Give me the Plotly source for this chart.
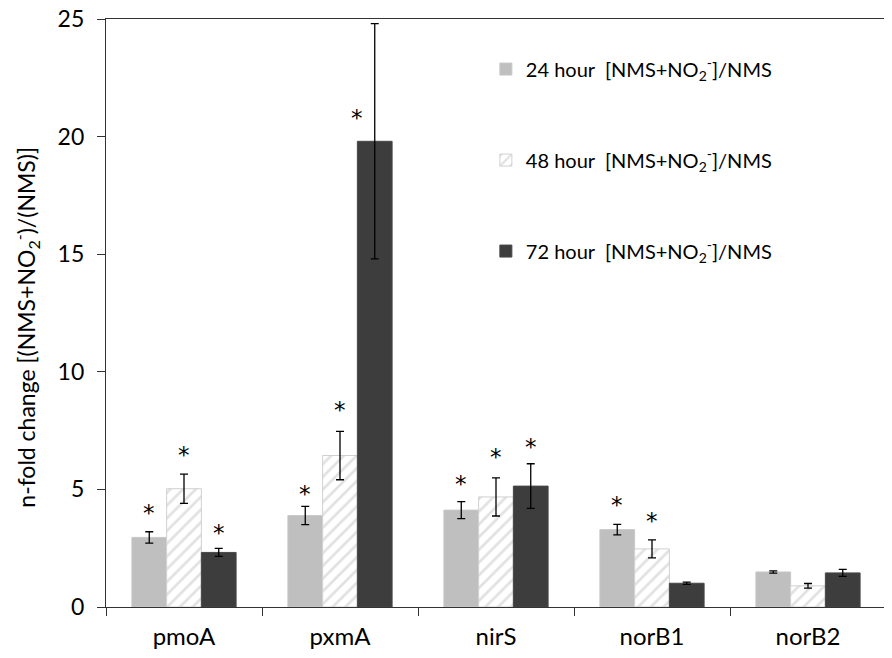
import plotly.graph_objects as go

# genes on the x axis
genes = ["pmoA", "pxmA", "nirS", "norB1", "norB2"]

# fold change per time point
fold_24h = [2.96, 3.89, 4.12, 3.29, 1.49]
fold_48h = [5.03, 6.44, 4.68, 2.47, 0.90]
fold_72h = [2.32, 19.8, 5.14, 1.01, 1.45]

err_24h = [0.24, 0.39, 0.36, 0.22, 0.05]
err_48h = [0.62, 1.03, 0.81, 0.38, 0.10]
err_72h = [0.17, 5.0, 0.95, 0.05, 0.15]

# significance markers: gene index, series index (0/1/2), height, sideways shift in bar widths
star_gene = [0, 0, 0, 1, 1, 1, 2, 2, 2, 3, 3]
star_series = [0, 1, 2, 0, 1, 2, 0, 1, 2, 0, 1]
star_y = [4.24, 6.71, 3.40, 5.08, 8.63, 21.05, 5.50, 6.62, 7.07, 4.58, 3.92]
star_dx = [0, 0, 0, 0, 0, -0.5, 0, 0, 0, 0, 0]

legend_names = [
    "24 hour  [NMS+NO<sub>2</sub><sup>-</sup>]/NMS",
    "48 hour  [NMS+NO<sub>2</sub><sup>-</sup>]/NMS",
    "72 hour  [NMS+NO<sub>2</sub><sup>-</sup>]/NMS",
]
y_title = "n-fold change [(NMS+NO<sub>2</sub><sup>-</sup>)/(NMS)]"

FONT = "Lato"
bargap = 0.332
bar_w = (1 - bargap) / 3

err_style = dict(type="data", color="black", thickness=1.3, width=4)

fig = go.Figure()
fig.add_trace(go.Bar(
    x=genes, y=fold_24h, name=legend_names[0], legendgroup="a",
    marker=dict(color="#bfbfbf", line=dict(color="#c8c8c8", width=1)),
    error_y=dict(array=err_24h, **err_style)))
fig.add_trace(go.Bar(
    x=genes, y=fold_48h, name=legend_names[1], legendgroup="b",
    marker=dict(color="white", line=dict(color="#d0d0d0", width=1),
                pattern=dict(shape="/", fgcolor="#c4c4c4", bgcolor="white", size=9, solidity=0.3)),
    error_y=dict(array=err_48h, **err_style)))
fig.add_trace(go.Bar(
    x=genes, y=fold_72h, name=legend_names[2], legendgroup="c",
    marker=dict(color="#3d3d3d", line=dict(color="#474747", width=1)),
    error_y=dict(array=err_72h, **err_style)))

for g, s, y, dx in zip(star_gene, star_series, star_y, star_dx):
    fig.add_annotation(x=g + (s - 1 + dx) * bar_w, y=y, text="*", showarrow=False,
                       font=dict(family="DejaVu Sans", size=23, color="black"), yshift=-6)

# y title as a rotated annotation so it can sit near the left edge
fig.add_annotation(x=0, y=0.475, xref="paper", yref="paper", xshift=-80,
                   xanchor="center", yanchor="middle",
                   text=y_title, textangle=-90, showarrow=False,
                   font=dict(family=FONT, size=23, color="black"))

axis_line = dict(showline=True, linecolor="#333333", linewidth=1.3, mirror=True)

# the page body adds an 8px offset, so the figure is 8px smaller each way
fig.update_layout(
    width=884, height=650,
    margin=dict(l=98, r=6, t=11, b=51),
    paper_bgcolor="white", plot_bgcolor="white",
    barmode="group", bargap=bargap, bargroupgap=0,
    font=dict(family=FONT, size=20, color="black"),
    showlegend=True,
    legend=dict(x=0.487, y=0.948, xanchor="left", yanchor="top",
                traceorder="grouped", tracegroupgap=62,
                bgcolor="rgba(0,0,0,0)", font=dict(size=20)),
    xaxis=dict(tickson="boundaries", ticks="outside", ticklen=8, tickcolor="#333333",
               showgrid=False, automargin=False, tickfont=dict(size=24),
               ticklabelstandoff=8, **axis_line),
    yaxis=dict(range=[0, 25], dtick=5, ticks="outside", ticklen=8, tickcolor="#333333",
               showgrid=False, zeroline=False, automargin=False, tickfont=dict(size=23),
               ticklabelstandoff=8, ticklabeloverflow="allow", **axis_line),
)

fig.write_html("out.html")
